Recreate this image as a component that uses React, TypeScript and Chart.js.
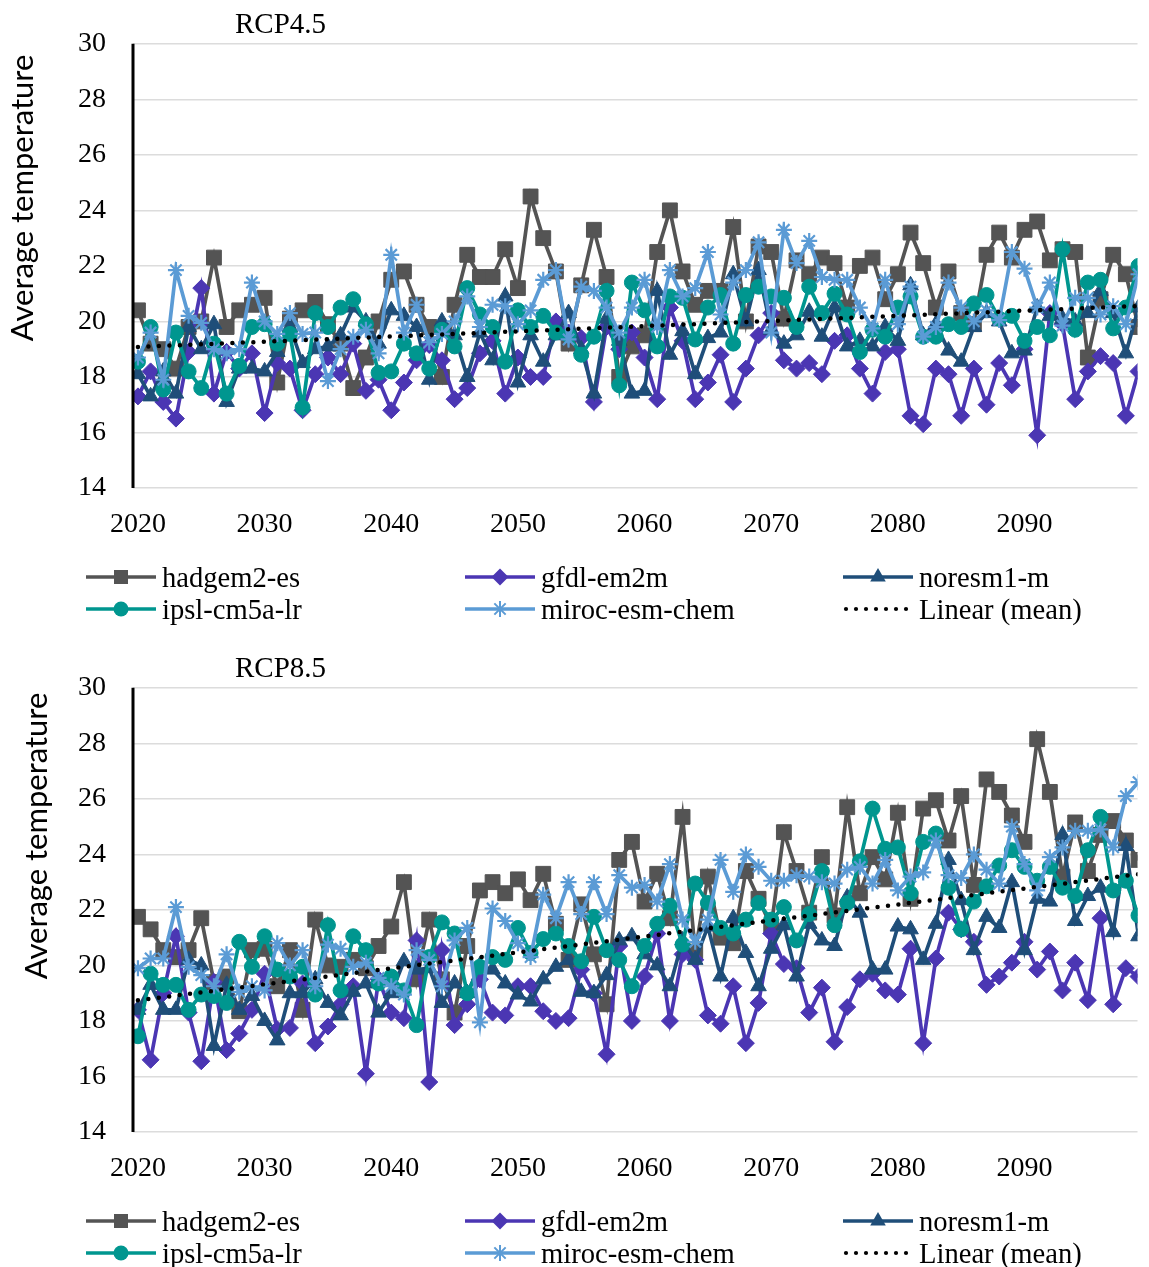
import React, { useEffect, useRef } from "react";
import { Chart, registerables } from "chart.js";

Chart.register(...registerables);

// ---- shared axis values ----
const years: number[] = Array.from({ length: 80 }, (_, i) => 2020 + i);
const xTickYears = [2020, 2030, 2040, 2050, 2060, 2070, 2080, 2090];
const yMin = 14;
const yMax = 30;
const yStep = 2;

// ---- RCP4.5 model runs (average temperature, 2020-2099) ----
const rcp45Hadgem = [
  20.4, 19.2, 19.0, 18.3, 19.8, 20.0, 22.3, 19.8, 20.4, 20.6,
  20.85, 17.8, 20.1, 20.4, 20.7, 19.9, 19.2, 17.6, 18.7, 20.0,
  21.5, 21.8, 20.6, 19.8, 18.0, 20.6, 22.4, 21.6, 21.6, 22.6,
  21.2, 24.5, 23.0, 21.8, 19.2, 21.3, 23.3, 21.6, 18.0, 19.1,
  19.5, 22.5, 24.0, 21.8, 20.6, 21.1, 21.1, 23.4, 20.0, 22.7,
  22.5, 20.1, 22.2, 21.7, 22.3, 22.1, 20.5, 22.0, 22.3, 20.8,
  21.7, 23.2, 22.1, 20.5, 21.8, 20.3, 19.9, 22.4, 23.2, 22.3,
  23.3, 23.6, 22.2, 22.6, 22.5, 18.7, 20.8, 22.4, 21.7, 19.8,
];
const rcp45Gfdl = [
  17.3, 18.2, 17.1, 16.5, 18.9, 21.2, 17.4, 18.9, 18.3, 18.85,
  16.7, 18.5, 18.3, 16.8, 18.1, 18.7, 18.1, 19.2, 17.5, 17.9,
  16.8, 17.8, 18.6, 19.15, 18.6, 17.2, 17.6, 18.85, 19.3, 17.4,
  18.7, 18.0, 18.0, 20.0, 19.6, 19.4, 17.1, 19.8, 19.0, 19.6,
  18.7, 17.2, 20.5, 19.3, 17.2, 17.8, 18.8, 17.1, 18.3, 19.5,
  20.3, 18.6, 18.3, 18.5, 18.1, 19.3, 19.5, 18.3, 17.4, 18.9,
  19.0, 16.6, 16.3, 18.3, 18.1, 16.6, 18.3, 17.0, 18.5, 17.7,
  19.0, 15.9, 20.3, 19.9, 17.2, 18.2, 18.75, 18.5, 16.6, 18.2,
];
const rcp45Noresm = [
  18.1, 17.3, 18.2, 17.4, 19.8, 19.0, 19.9, 17.1, 18.3, 18.3,
  18.2, 18.9, 19.8, 18.5, 19.0, 19.1, 19.5, 20.5, 20.0, 19.2,
  20.4, 20.2, 19.8, 17.9, 20.0, 19.5, 18.0, 19.6, 18.6, 20.9,
  17.8, 19.5, 18.55, 19.5, 20.3, 19.0, 17.4, 20.1, 19.3, 17.4,
  17.5, 21.1, 18.8, 19.65, 18.1, 19.4, 19.6, 21.7, 20.0, 21.85,
  19.7, 19.2, 19.5, 20.35, 19.45, 20.5, 19.1, 19.3, 19.1, 19.8,
  19.3, 21.3, 19.5, 19.9, 18.95, 18.55, 19.8, 20.3, 20.0, 18.85,
  18.95, 20.5, 20.2, 20.1, 20.0, 20.3, 21.1, 20.3, 18.85, 20.5,
];
const rcp45Ipsl = [
  18.55, 19.8, 17.55, 19.6, 18.2, 17.6, 19.2, 17.4, 18.4, 19.8,
  19.9, 19.2, 19.55, 16.9, 20.3, 19.8, 20.5, 20.8, 19.9, 18.15,
  18.2, 19.2, 18.85, 18.3, 19.7, 19.1, 21.2, 20.25, 19.8, 18.55,
  20.4, 19.8, 20.2, 19.6, 19.5, 18.8, 19.45, 21.1, 17.7, 21.4,
  20.4, 19.1, 20.9, 20.85, 19.35, 20.5, 20.95, 19.2, 20.95, 21.25,
  20.9, 20.85, 19.8, 21.25, 20.3, 21.0, 20.25, 18.9, 19.7, 19.45,
  20.5, 20.9, 19.45, 19.45, 19.9, 19.8, 20.65, 20.95, 20.1, 20.2,
  19.3, 19.8, 19.5, 22.6, 19.7, 21.4, 21.5, 19.75, 20.5, 22.0,
];
const rcp45Miroc = [
  18.7, 19.6, 17.9, 21.85, 20.2, 19.95, 19.0, 18.85, 19.0, 21.4,
  20.0, 19.55, 20.3, 19.55, 19.6, 17.85, 19.0, 19.45, 19.7, 18.85,
  22.4, 19.6, 20.6, 19.25, 19.55, 20.0, 20.9, 19.8, 20.6, 20.55,
  19.9, 20.4, 21.5, 21.85, 19.35, 21.25, 21.1, 20.5, 19.6, 20.5,
  21.5, 19.8, 21.85, 20.9, 21.2, 22.5, 20.25, 21.4, 21.85, 22.85,
  19.6, 23.3, 22.1, 22.9, 21.6, 21.5, 21.5, 20.5, 19.75, 21.5,
  19.9, 21.25, 19.45, 19.8, 21.4, 20.5, 20.0, 20.4, 20.05, 22.5,
  21.9, 20.5, 21.4, 19.85, 20.85, 20.85, 20.25, 20.55, 19.9, 21.7,
];

// ---- RCP8.5 model runs (average temperature, 2020-2099) ----
const rcp85Hadgem = [
  21.75, 21.3, 20.55, 20.3, 20.55, 21.7, 19.4, 19.6, 18.35, 20.55,
  20.6, 19.25, 20.55, 18.4, 21.65, 20.0, 19.95, 20.2, 19.9, 20.7,
  21.4, 23.0, 19.5, 21.65, 19.5, 18.3, 20.7, 22.7, 23.0, 22.6,
  23.1, 22.35, 23.3, 21.5, 20.2, 22.2, 20.4, 18.6, 23.8, 24.45,
  22.3, 23.3, 21.7, 25.35, 20.5, 23.2, 21.0, 20.8, 23.4, 22.4,
  21.4, 24.8, 23.4, 21.9, 23.9, 21.8, 25.7, 22.6, 23.9, 23.1,
  25.5, 22.4, 25.65, 25.95, 24.5, 26.1, 22.9, 26.7, 26.25, 25.4,
  24.45, 28.15, 26.25, 23.2, 25.15, 23.4, 24.7, 25.2, 24.5, 23.8,
];
const rcp85Gfdl = [
  18.4, 16.6, 19.0, 21.05, 18.3, 16.55, 19.4, 16.95, 17.55, 18.4,
  19.7, 17.7, 17.75, 19.35, 17.2, 17.8, 18.6, 19.25, 16.1, 19.5,
  18.3, 18.1, 20.9, 15.8, 20.55, 17.85, 18.6, 19.5, 18.3, 18.2,
  19.25, 19.25, 18.35, 18.0, 18.1, 19.85, 19.0, 16.8, 20.7, 18.0,
  19.6, 21.15, 18.0, 20.4, 20.2, 18.2, 17.9, 19.25, 17.2, 18.65,
  21.15, 20.05, 19.9, 18.3, 19.2, 17.25, 18.5, 19.5, 19.7, 19.1,
  18.95, 20.6, 17.2, 20.25, 21.9, 21.3, 20.85, 19.3, 19.6, 20.1,
  20.85, 19.85, 20.5, 19.1, 20.1, 18.75, 21.7, 18.6, 19.9, 19.6,
];
const rcp85Noresm = [
  18.4, 19.3, 18.4, 18.4, 20.2, 20.0, 17.1, 19.3, 18.4, 18.9,
  18.0, 17.3, 19.0, 19.0, 19.5, 18.65, 18.2, 19.05, 19.35, 18.3,
  19.0, 20.15, 19.85, 19.9, 18.65, 19.35, 19.0, 20.0, 19.85, 19.35,
  18.95, 18.7, 19.5, 19.95, 20.2, 19.05, 19.0, 19.65, 20.9, 21.05,
  20.4, 20.0, 19.25, 20.9, 20.2, 21.4, 19.6, 21.7, 20.45, 19.25,
  20.6, 21.45, 19.6, 21.5, 20.9, 20.7, 22.45, 21.9, 19.85, 19.85,
  21.4, 21.3, 20.2, 21.5, 23.8, 22.35, 20.55, 21.75, 21.35, 23.0,
  20.55, 22.4, 22.3, 24.7, 21.6, 22.5, 22.8, 21.2, 24.3, 21.05,
];
const rcp85Ipsl = [
  17.45, 19.7, 19.3, 19.3, 18.4, 18.95, 18.9, 18.65, 20.85, 19.95,
  21.05, 19.85, 19.6, 19.95, 18.95, 21.45, 19.1, 21.05, 20.55, 19.35,
  19.6, 19.1, 17.85, 20.3, 21.55, 21.15, 19.0, 19.95, 20.3, 20.2,
  21.35, 20.45, 20.95, 21.15, 20.7, 20.15, 21.75, 20.55, 20.2, 19.25,
  20.7, 21.5, 22.15, 20.75, 22.95, 22.25, 21.35, 21.15, 21.65, 22.25,
  21.65, 22.1, 20.9, 21.85, 23.4, 21.45, 22.25, 23.75, 25.65, 24.2,
  24.25, 22.6, 24.45, 24.75, 22.8, 21.3, 22.3, 22.85, 23.6, 24.15,
  23.55, 23.05, 23.55, 22.8, 22.5, 24.15, 25.35, 22.7, 23.05, 21.8,
];
const rcp85Miroc = [
  19.9, 20.25, 20.25, 22.1, 19.95, 19.65, 19.25, 20.4, 19.05, 19.25,
  19.1, 20.8, 20.0, 20.55, 19.25, 20.75, 20.6, 19.95, 20.1, 19.55,
  19.25, 18.95, 20.55, 20.2, 19.25, 20.9, 21.35, 17.95, 22.05, 21.6,
  20.8, 20.3, 22.55, 21.7, 23.0, 21.85, 23.0, 21.85, 23.25, 22.8,
  22.9, 22.3, 23.65, 21.65, 20.85, 21.65, 23.8, 22.65, 24.0, 23.55,
  23.05, 23.05, 23.25, 23.2, 23.0, 22.95, 23.45, 23.55, 22.95, 23.8,
  22.7, 23.2, 23.35, 24.5, 23.25, 23.15, 24.0, 23.45, 22.95, 25.0,
  23.65, 22.7, 23.9, 24.25, 24.85, 24.85, 24.9, 24.25, 26.1, 26.6,
];

// ---- styling ----
const SERIF_FAMILY = "Liberation Serif";
const SERIF = `"${SERIF_FAMILY}", serif`;
const SANS = 'Lato, "Liberation Sans", sans-serif';

type Marker = "rect" | "rectRot" | "triangle" | "circle" | "star";

interface ModelStyle {
  name: string;
  color: string;
  marker: Marker;
  radius: number;
}

const models: ModelStyle[] = [
  { name: "hadgem2-es", color: "#545454", marker: "rect", radius: 10.5 },
  { name: "gfdl-em2m", color: "#4b36b3", marker: "rectRot", radius: 8.5 },
  { name: "noresm1-m", color: "#1f4e79", marker: "triangle", radius: 9 },
  { name: "ipsl-cm5a-lr", color: "#00968f", marker: "circle", radius: 7.5 },
  { name: "miroc-esm-chem", color: "#5b9bd5", marker: "star", radius: 8 },
];
const trendName = "Linear (mean)";

// least-squares line through the ensemble mean
function meanTrend(series: number[][]) {
  const n = years.length;
  const mean = years.map((_, i) => series.reduce((s, a) => s + a[i], 0) / series.length);
  const mx = years.reduce((s, v) => s + v, 0) / n;
  const my = mean.reduce((s, v) => s + v, 0) / n;
  let sxy = 0;
  let sxx = 0;
  for (let i = 0; i < n; i++) {
    sxy += (years[i] - mx) * (mean[i] - my);
    sxx += (years[i] - mx) * (years[i] - mx);
  }
  const slope = sxy / sxx;
  const at = (x: number) => my + slope * (x - mx);
  return [
    { x: years[0], y: at(years[0]) },
    { x: years[n - 1], y: at(years[n - 1]) },
  ];
}

function drawMarker(ctx: CanvasRenderingContext2D, m: Marker, x: number, y: number, color: string) {
  ctx.save();
  ctx.fillStyle = color;
  ctx.strokeStyle = color;
  ctx.beginPath();
  if (m === "rect") {
    ctx.rect(x - 7, y - 7, 14, 14);
    ctx.fill();
  } else if (m === "rectRot") {
    ctx.moveTo(x - 8.5, y);
    ctx.lineTo(x, y - 8.5);
    ctx.lineTo(x + 8.5, y);
    ctx.lineTo(x, y + 8.5);
    ctx.closePath();
    ctx.fill();
  } else if (m === "triangle") {
    const r = 9;
    for (let k = 0; k < 3; k++) {
      const a = (k * 2 * Math.PI) / 3;
      const px = x + Math.sin(a) * r;
      const py = y - Math.cos(a) * r;
      if (k === 0) ctx.moveTo(px, py);
      else ctx.lineTo(px, py);
    }
    ctx.closePath();
    ctx.fill();
  } else if (m === "circle") {
    ctx.arc(x, y, 7.5, 0, Math.PI * 2);
    ctx.fill();
  } else {
    ctx.lineWidth = 2;
    const r = 8;
    for (let k = 0; k < 4; k++) {
      const a = (k * Math.PI) / 4;
      ctx.moveTo(x - Math.cos(a) * r, y - Math.sin(a) * r);
      ctx.lineTo(x + Math.cos(a) * r, y + Math.sin(a) * r);
    }
    ctx.stroke();
  }
  ctx.restore();
}

interface PanelProps {
  title: string;
  series: number[][];
  height: number;
  yTitleX: number;
  yTitleY: number;
}

const LEGEND_COLS = [86, 465, 843];
const LEGEND_ROWS = [577, 609];

function Panel({ title, series, height, yTitleX, yTitleY }: PanelProps) {
  const ref = useRef<HTMLCanvasElement | null>(null);

  useEffect(() => {
    if (!ref.current) return;
    const axisBottom = 488;
    const xAxisHeight = 60;

    const decor = {
      id: "panelDecor",
      afterDraw(chart: any) {
        const ctx: CanvasRenderingContext2D = chart.ctx;
        const area = chart.chartArea;
        ctx.save();

        // vertical axis line
        ctx.strokeStyle = "#000";
        ctx.lineWidth = 3;
        ctx.beginPath();
        ctx.moveTo(area.left, area.top);
        ctx.lineTo(area.left, area.bottom);
        ctx.stroke();

        // panel title
        ctx.fillStyle = "#000";
        ctx.font = `29px ${SERIF}`;
        ctx.textAlign = "left";
        ctx.textBaseline = "alphabetic";
        ctx.fillText(title, 235, 33);

        // y axis title
        ctx.save();
        ctx.translate(yTitleX, yTitleY);
        ctx.rotate(-Math.PI / 2);
        ctx.font = `31px ${SANS}`;
        ctx.textAlign = "center";
        ctx.fillText("Average temperature", 0, 0);
        ctx.restore();

        // legend: three columns, two rows
        const entries = [
          ...models.map((m) => ({ name: m.name, color: m.color, marker: m.marker as Marker | null })),
          { name: trendName, color: "#000", marker: null as Marker | null },
        ];
        entries.forEach((e, idx) => {
          const x0 = LEGEND_COLS[idx % 3];
          const y0 = LEGEND_ROWS[Math.floor(idx / 3)];
          if (e.marker) {
            ctx.strokeStyle = e.color;
            ctx.lineWidth = 3.5;
            ctx.lineCap = "butt";
            ctx.setLineDash([]);
            ctx.beginPath();
            ctx.moveTo(x0, y0);
            ctx.lineTo(x0 + 70, y0);
            ctx.stroke();
            drawMarker(ctx, e.marker, x0 + 35, y0, e.color);
          } else {
            ctx.fillStyle = "#000";
            for (let dx = 3; dx <= 68; dx += 10) {
              ctx.beginPath();
              ctx.arc(x0 + dx, y0, 2.1, 0, Math.PI * 2);
              ctx.fill();
            }
          }
          ctx.fillStyle = "#000";
          ctx.font = `28.6px ${SERIF}`;
          ctx.textAlign = "left";
          ctx.textBaseline = "alphabetic";
          ctx.fillText(e.name, x0 + 76, y0 + 10);
        });
        ctx.restore();
      },
    };

    const datasets: any[] = models.map((m, i) => ({
      label: m.name,
      data: years.map((x, j) => ({ x, y: series[i][j] })),
      borderColor: m.color,
      backgroundColor: m.color,
      borderWidth: 3.7,
      tension: 0,
      pointStyle: m.marker,
      pointRadius: m.radius,
      pointBackgroundColor: m.color,
      pointBorderColor: m.color,
      pointBorderWidth: m.marker === "star" ? 2.2 : 1,
      order: 5 - i,
    }));
    datasets.push({
      label: trendName,
      data: meanTrend(series),
      borderColor: "#000",
      borderWidth: 4.5,
      borderDash: [0, 10.5],
      borderCapStyle: "round",
      pointRadius: 0,
      order: 0,
    });

    const tickFont = { family: SERIF_FAMILY, size: 28 };

    const chart = new Chart(ref.current, {
      type: "line",
      data: { datasets },
      options: {
        animation: false,
        responsive: false,
        maintainAspectRatio: false,
        layout: { padding: { top: 43, right: 0, left: 0, bottom: height - axisBottom - xAxisHeight } },
        plugins: {
          legend: { display: false },
          tooltip: { enabled: false },
          title: { display: false },
        },
        scales: {
          x: {
            type: "linear",
            min: 2019.61,
            max: 2098.92,
            afterBuildTicks: (s: any) => {
              s.ticks = xTickYears.map((v) => ({ value: v }));
            },
            afterFit: (s: any) => {
              s.height = xAxisHeight;
            },
            grid: { display: false, drawTicks: false },
            border: { display: false },
            ticks: {
              autoSkip: false,
              maxRotation: 0,
              padding: 20,
              color: "#000",
              font: tickFont,
              callback: (v: any) => String(v),
            },
          },
          y: {
            min: yMin,
            max: yMax,
            afterFit: (s: any) => {
              s.width = 133;
            },
            grid: { color: "#dcdcdc", lineWidth: 1.5, drawTicks: false },
            border: { display: false },
            ticks: {
              stepSize: yStep,
              padding: 27,
              color: "#000",
              font: tickFont,
            },
          },
        },
      },
      plugins: [decor],
    });
    return () => chart.destroy();
  }, [title, series, height, yTitleX, yTitleY]);

  return <canvas ref={ref} width={1149} height={height} style={{ display: "block", width: 1149, height }} />;
}

export default function App() {
  return (
    <div style={{ position: "absolute", left: 0, top: 0, width: 1149, height: 1267, background: "#fff" }}>
      <div style={{ position: "absolute", left: 0, top: 0 }}>
        <Panel
          title="RCP4.5"
          series={[rcp45Hadgem, rcp45Gfdl, rcp45Noresm, rcp45Ipsl, rcp45Miroc]}
          height={644}
          yTitleX={33}
          yTitleY={198}
        />
      </div>
      <div style={{ position: "absolute", left: 0, top: 644 }}>
        <Panel
          title="RCP8.5"
          series={[rcp85Hadgem, rcp85Gfdl, rcp85Noresm, rcp85Ipsl, rcp85Miroc]}
          height={623}
          yTitleX={47}
          yTitleY={192}
        />
      </div>
    </div>
  );
}
